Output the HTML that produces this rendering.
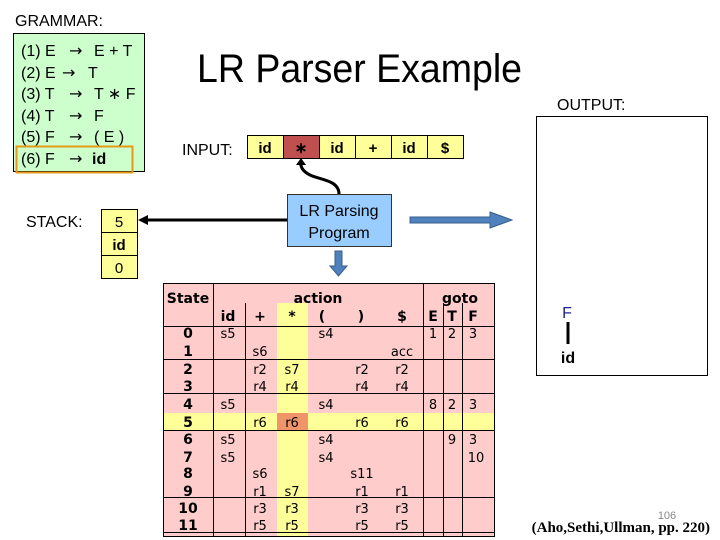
<!DOCTYPE html>
<html><head><meta charset="utf-8"><style>body{margin:0;background:#fff}svg{display:block}</style></head>
<body>
<svg width="720" height="540" xmlns="http://www.w3.org/2000/svg" font-family="Liberation Sans, Arial, sans-serif">
<text x="15" y="26" font-size="16">GRAMMAR:</text>
<rect x="13.5" y="33.5" width="131" height="138" fill="#ccffcc" stroke="#000"/>
<rect x="16.5" y="146.5" width="116" height="26" fill="none" stroke="#e39a1a" stroke-width="2"/>
<g font-size="16">
<text x="21" y="56">(1) E</text><text x="94" y="56">E + T</text>
<text x="21" y="78">(2) E</text><text x="88" y="78">T</text>
<text x="21" y="99">(3) T</text><text x="94" y="99">T ∗ F</text>
<text x="21" y="121">(4) T</text><text x="94" y="121">F</text>
<text x="21" y="142">(5) F</text><text x="94" y="142">( E )</text>
<text x="21" y="164">(6) F</text><text x="92" y="164" font-weight="bold">id</text>
</g>
<g font-size="16" font-family="DejaVu Sans, sans-serif">
<text x="69" y="56">→</text><text x="62" y="78">→</text><text x="69" y="99">→</text><text x="69" y="121">→</text><text x="69" y="142">→</text><text x="69" y="164">→</text>
</g>
<text x="197" y="82" font-size="40" textLength="325" lengthAdjust="spacingAndGlyphs">LR Parser Example</text>
<text x="182" y="155" font-size="16">INPUT:</text>
<g stroke="#000" stroke-width="1">
<rect x="247.5" y="135.5" width="36" height="23" fill="#ffff99"/>
<rect x="283.5" y="135.5" width="36" height="23" fill="#c05050"/>
<rect x="319.5" y="135.5" width="36" height="23" fill="#ffff99"/>
<rect x="355.5" y="135.5" width="36" height="23" fill="#ffff99"/>
<rect x="391.5" y="135.5" width="36" height="23" fill="#ffff99"/>
<rect x="427.5" y="135.5" width="36" height="23" fill="#ffff99"/>
</g>
<g font-size="15" font-weight="bold" text-anchor="middle">
<text x="265" y="153">id</text><text x="301" y="153">∗</text><text x="337" y="153">id</text><text x="373" y="153">+</text><text x="409" y="153">id</text><text x="445" y="153">$</text>
</g>
<path d="M339 194 C339 180 320 180 310 175 C302 171 300 166 301 161" fill="none" stroke="#000" stroke-width="3"/>
<path d="M296 165 L301 158 L306 165 Z" fill="#000"/>
<rect x="287.5" y="194.5" width="104" height="52" fill="#99ccff" stroke="#333"/>
<text x="339" y="216" font-size="16" text-anchor="middle">LR Parsing</text>
<text x="339" y="238" font-size="16" text-anchor="middle">Program</text>
<text x="26" y="227" font-size="16">STACK:</text>
<g stroke="#000"><rect x="101.5" y="209.5" width="36" height="23" fill="#ffff99"/><rect x="101.5" y="232.5" width="36" height="23" fill="#ffff99"/><rect x="101.5" y="255.5" width="36" height="23" fill="#ffff99"/></g>
<g font-size="15" text-anchor="middle"><text x="119" y="227">5</text><text x="119" y="250" font-weight="bold">id</text><text x="119" y="273">0</text></g>
<line x1="287" y1="220" x2="145" y2="220" stroke="#000" stroke-width="3"/>
<path d="M138 220 L148 215 L148 225 Z" fill="#000"/>
<path d="M410 217 L490 217 L490 212 L512 220 L490 228 L490 223 L410 223 Z" fill="#4f81bd" stroke="#385d8a"/>
<path d="M335 251 L342 251 L342 266 L347 266 L338.5 276 L330 266 L335 266 Z" fill="#4f81bd" stroke="#385d8a"/>
<text x="557" y="110" font-size="16">OUTPUT:</text>
<rect x="536.5" y="116.5" width="171" height="259" fill="#fff" stroke="#000"/>
<text x="567" y="318" font-size="16" fill="#1f1f8f" text-anchor="middle">F</text>
<line x1="568" y1="322" x2="568" y2="344" stroke="#000" stroke-width="3"/>
<text x="568" y="363" font-size="16" font-weight="bold" text-anchor="middle">id</text>
<text x="667" y="519" font-size="11" fill="#888" text-anchor="middle">106</text>
<text x="710" y="532" font-size="15" font-weight="bold" font-family="Liberation Serif, serif" text-anchor="end">(Aho,Sethi,Ullman, pp. 220)</text>
<rect x="163.5" y="283.5" width="331" height="253" fill="#ffcccc" stroke="#000"/>
<rect x="277" y="303" width="31" height="233" fill="#ffff99"/>
<rect x="164" y="413" width="330" height="17" fill="#ffff99"/>
<rect x="277" y="413" width="31" height="17" fill="#f0956a"/>
<g stroke="#000" stroke-width="1">
<line x1="213.5" y1="284" x2="213.5" y2="536"/>
<line x1="423.5" y1="284" x2="423.5" y2="536"/>
<line x1="245.5" y1="303" x2="245.5" y2="536"/>
<line x1="443.5" y1="303" x2="443.5" y2="536"/>
<line x1="462.5" y1="303" x2="462.5" y2="536"/>
<line x1="164" y1="326.5" x2="494" y2="326.5"/>
<line x1="164" y1="359.5" x2="494" y2="359.5"/>
<line x1="164" y1="393.5" x2="494" y2="393.5"/>
<line x1="164" y1="430.5" x2="494" y2="430.5"/>
<line x1="164" y1="497.5" x2="494" y2="497.5"/>
<line x1="164" y1="532.5" x2="494" y2="532.5"/>
</g>
<g font-family="DejaVu Sans, sans-serif" font-weight="bold" font-size="14" text-anchor="middle">
<text x="188" y="303">State</text><text x="318" y="303">action</text><text x="460" y="303">goto</text>
<text x="228" y="321">id</text><text x="260" y="321">+</text><text x="292" y="321">*</text><text x="322" y="321">(</text><text x="361" y="321">)</text><text x="402" y="321">$</text><text x="433" y="321">E</text><text x="452" y="321">T</text><text x="473" y="321">F</text>
<text x="188" y="338">0</text><text x="188" y="356">1</text><text x="188" y="374">2</text><text x="188" y="391">3</text><text x="188" y="409">4</text><text x="188" y="427">5</text><text x="188" y="444">6</text><text x="188" y="462">7</text><text x="188" y="478">8</text><text x="188" y="496">9</text><text x="188" y="513">10</text><text x="188" y="530">11</text>
</g>
<g font-family="DejaVu Sans, sans-serif" font-size="13" text-anchor="middle">
<text x="228" y="338">s5</text><text x="326" y="338">s4</text><text x="433" y="338">1</text><text x="452" y="338">2</text><text x="473" y="338">3</text>
<text x="260" y="356">s6</text><text x="402" y="356">acc</text>
<text x="260" y="374">r2</text><text x="292" y="374">s7</text><text x="362" y="374">r2</text><text x="402" y="374">r2</text>
<text x="260" y="391">r4</text><text x="292" y="391">r4</text><text x="362" y="391">r4</text><text x="402" y="391">r4</text>
<text x="228" y="409">s5</text><text x="326" y="409">s4</text><text x="433" y="409">8</text><text x="452" y="409">2</text><text x="473" y="409">3</text>
<text x="260" y="427">r6</text><text x="292" y="427">r6</text><text x="362" y="427">r6</text><text x="402" y="427">r6</text>
<text x="228" y="444">s5</text><text x="326" y="444">s4</text><text x="452" y="444">9</text><text x="473" y="444">3</text>
<text x="228" y="462">s5</text><text x="326" y="462">s4</text><text x="476" y="462">10</text>
<text x="260" y="478">s6</text><text x="362" y="478">s11</text>
<text x="260" y="496">r1</text><text x="292" y="496">s7</text><text x="362" y="496">r1</text><text x="402" y="496">r1</text>
<text x="260" y="513">r3</text><text x="292" y="513">r3</text><text x="362" y="513">r3</text><text x="402" y="513">r3</text>
<text x="260" y="530">r5</text><text x="292" y="530">r5</text><text x="362" y="530">r5</text><text x="402" y="530">r5</text>
</g>
</svg>
</body></html>
